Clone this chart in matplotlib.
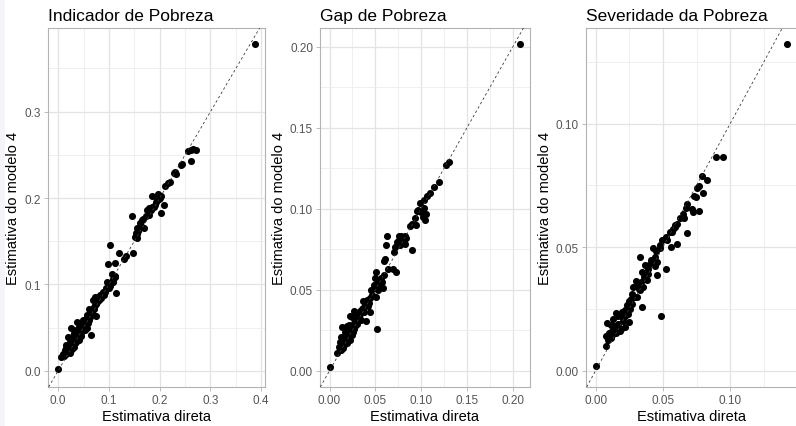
import numpy as np
import matplotlib
matplotlib.use("Agg")
import matplotlib.pyplot as plt
from matplotlib.ticker import MultipleLocator, FormatStrFormatter
from matplotlib.patches import Rectangle

plt.rcParams['font.family'] = ['Liberation Sans', 'DejaVu Sans']

# estimates: (direct estimate, model 4 estimate)
ind_direta = [0.388, 0.261, 0.266, 0.271, 0.256, 0.261, 0.244, 0.241, 0.231, 0.228,
              0.233, 0.220, 0.216, 0.211, 0.209, 0.203, 0.200, 0.195, 0.203, 0.185,
              0.190, 0.185, 0.178, 0.175, 0.173, 0.168, 0.165, 0.170, 0.162, 0.156,
              0.154, 0.152, 0.156, 0.145, 0.148, 0.134, 0.130, 0.119, 0.112, 0.102,
              0.099, 0.114, 0.111, 0.105, 0.107, 0.102, 0.097, 0.095, 0.089, 0.082,
              0.079, 0.072, 0.069, 0.075, 0.070, 0.066, 0.074, 0.061, 0.057, 0.054,
              0.060, 0.049, 0.057, 0.064, 0.046, 0.041, 0.037, 0.036, 0.026, 0.032,
              0.028, 0.019, 0.0225, 0.016, 0.0146, 0.026, 0.030, 0.0126, 0.009, 0.006,
              0.016, -0.0007,
              0.020, 0.022, 0.025, 0.027, 0.030, 0.028, 0.032, 0.034, 0.035, 0.038,
              0.040, 0.042, 0.044, 0.046, 0.048, 0.050, 0.052, 0.055, 0.058, 0.062,
              0.064, 0.067, 0.070, 0.073, 0.077, 0.080, 0.085, 0.090, 0.093, 0.018,
              0.024, 0.031, 0.036, 0.041, 0.045, 0.012, 0.015, 0.024, 0.039, 0.056,
              0.100, 0.104, 0.108, 0.112, 0.155, 0.158, 0.160, 0.163, 0.178, 0.182,
              0.188, 0.192, 0.198, 0.197]
ind_modelo = [0.378, 0.256, 0.257, 0.256, 0.2545, 0.243, 0.239, 0.238, 0.230, 0.229,
              0.228, 0.219, 0.217, 0.214, 0.192, 0.2025, 0.200, 0.198, 0.183, 0.2018,
              0.192, 0.1895, 0.188, 0.186, 0.179, 0.176, 0.174, 0.1655, 0.171, 0.1655,
              0.160, 0.155, 0.154, 0.179, 0.136, 0.133, 0.129, 0.136, 0.125, 0.146,
              0.124, 0.0898, 0.108, 0.112, 0.1024, 0.098, 0.1024, 0.0955, 0.0917, 0.0879,
              0.0852, 0.0852, 0.0814, 0.0776, 0.0737, 0.0699, 0.0634, 0.0718, 0.065, 0.060,
              0.0585, 0.0585, 0.049, 0.0413, 0.0546, 0.0508, 0.0566, 0.047, 0.049, 0.0432,
              0.0394, 0.0394, 0.0336, 0.0298, 0.0267, 0.0267, 0.0317, 0.0241, 0.019, 0.0164,
              0.0203, 0.0023,
              0.022, 0.026, 0.028, 0.025, 0.030, 0.034, 0.036, 0.032, 0.040, 0.038,
              0.042, 0.045, 0.040, 0.048, 0.050, 0.053, 0.047, 0.056, 0.055, 0.062,
              0.066, 0.068, 0.071, 0.076, 0.079, 0.082, 0.084, 0.088, 0.091, 0.024,
              0.031, 0.027, 0.033, 0.036, 0.044, 0.017, 0.019, 0.020, 0.047, 0.060,
              0.096, 0.101, 0.106, 0.110, 0.158, 0.162, 0.165, 0.168, 0.180, 0.186,
              0.190, 0.195, 0.199, 0.205]

gap_direta = [0.2084, 0.130, 0.1275, 0.120, 0.1137, 0.110, 0.1064, 0.1035, 0.099, 0.097,
              0.1027, 0.1056, 0.0955, 0.1046, 0.0936, 0.090, 0.0874, 0.090, 0.0827, 0.0809,
              0.079, 0.0754, 0.0736, 0.0772, 0.0718, 0.070, 0.0729, 0.0692, 0.0627, 0.0619,
              0.0634, 0.0608, 0.059, 0.0597, 0.0572, 0.0583, 0.0554, 0.051, 0.0499, 0.0525,
              0.0517, 0.051, 0.048, 0.0452, 0.0444, 0.0408, 0.0426, 0.039, 0.0437, 0.0364,
              0.040, 0.0353, 0.0328, 0.0299, 0.0262, 0.0226, 0.0291, 0.0262, 0.0244, 0.028,
              0.0226, 0.019, 0.0135, 0.0171, 0.0208, 0.0171, 0.0124, 0.0109, 0.0146, 0.0098,
              0.008, 0.000,
              0.015, 0.018, 0.020, 0.022, 0.024, 0.026, 0.028, 0.030, 0.032, 0.034,
              0.036, 0.038, 0.012, 0.016, 0.019, 0.021, 0.025, 0.027, 0.033, 0.042,
              0.046, 0.048, 0.053, 0.056, 0.078, 0.081, 0.084, 0.082, 0.076, 0.100,
              0.102, 0.094]
gap_modelo = [0.2016, 0.1288, 0.1268, 0.1167, 0.1132, 0.110, 0.1076, 0.1052, 0.1035, 0.0995,
              0.1005, 0.097, 0.0985, 0.093, 0.0944, 0.0904, 0.0894, 0.0748, 0.0833, 0.0813,
              0.0803, 0.0833, 0.0793, 0.0777, 0.0762, 0.0732, 0.0611, 0.0627, 0.0829, 0.0777,
              0.0631, 0.0692, 0.0675, 0.059, 0.055, 0.051, 0.053, 0.0611, 0.057, 0.054,
              0.0257, 0.0453, 0.051, 0.050, 0.0449, 0.0439, 0.0419, 0.0404, 0.0364, 0.0429,
              0.0307, 0.0378, 0.0348, 0.0358, 0.0368, 0.0338, 0.0317, 0.0297, 0.0267, 0.0277,
              0.0257, 0.0277, 0.0267, 0.0237, 0.0216, 0.0186, 0.0206, 0.0176, 0.0166, 0.0146,
              0.0109, 0.002,
              0.014, 0.020, 0.022, 0.019, 0.022, 0.024, 0.030, 0.029, 0.033, 0.031,
              0.039, 0.036, 0.013, 0.016, 0.017, 0.028, 0.033, 0.026, 0.037, 0.040,
              0.047, 0.053, 0.050, 0.057, 0.083, 0.080, 0.082, 0.078, 0.081, 0.098,
              0.095, 0.090]

sev_direta = [0.1425, 0.0943, 0.0893, 0.0825, 0.0793, 0.0768, 0.0755, 0.080, 0.073, 0.0743,
              0.068, 0.0675, 0.0718, 0.0725, 0.0768, 0.065, 0.066, 0.068, 0.0605, 0.0593,
              0.0575, 0.0555, 0.0525, 0.0605, 0.056, 0.0493, 0.0475, 0.045, 0.0425, 0.0443,
              0.0425, 0.0455, 0.0405, 0.0368, 0.0393, 0.0443, 0.0525, 0.0455, 0.033, 0.038,
              0.0343, 0.030, 0.0318, 0.0355, 0.033, 0.028, 0.0268, 0.031, 0.0343, 0.025,
              0.023, 0.0255, 0.0218, 0.025, 0.0485, 0.0193, 0.015, 0.0168, 0.0205, 0.013,
              0.0218, 0.0085, 0.0118, 0.0155, 0.0125, 0.010, 0.015, 0.018, 0.0075, 0.0093,
              0.0118, 0.0075, 0.000,
              0.014, 0.017, 0.019, 0.020, 0.022, 0.024, 0.027, 0.029, 0.032, 0.034,
              0.036, 0.039, 0.041, 0.011, 0.013, 0.016, 0.023, 0.026, 0.057, 0.059,
              0.053, 0.063, 0.048]
sev_modelo = [0.1321, 0.0865, 0.0863, 0.0773, 0.0786, 0.0749, 0.074, 0.072, 0.0707, 0.0704,
              0.0674, 0.066, 0.0654, 0.0643, 0.0647, 0.0634, 0.0617, 0.0559, 0.0594, 0.0581,
              0.0575, 0.0561, 0.0542, 0.0511, 0.0502, 0.0528, 0.0495, 0.0485, 0.0498, 0.0462,
              0.0449, 0.044, 0.0432, 0.0427, 0.041, 0.0423, 0.0413, 0.0387, 0.0462, 0.0366,
              0.040, 0.0361, 0.0343, 0.0337, 0.0326, 0.0337, 0.031, 0.0297, 0.0258, 0.0284,
              0.0264, 0.0251, 0.0244, 0.0198, 0.0221, 0.0238, 0.0234, 0.0221, 0.0215, 0.0211,
              0.0178, 0.0194, 0.0185, 0.0172, 0.0162, 0.0152, 0.0152, 0.0162, 0.0139, 0.0125,
              0.0132, 0.0099, 0.002,
              0.018, 0.019, 0.017, 0.020, 0.022, 0.023, 0.027, 0.030, 0.033, 0.036,
              0.038, 0.039, 0.045, 0.014, 0.015, 0.016, 0.025, 0.029, 0.056, 0.059,
              0.053, 0.062, 0.051]

titulos = ["Indicador de Pobreza", "Gap de Pobreza", "Severidade da Pobreza"]
series = [(ind_direta, ind_modelo), (gap_direta, gap_modelo), (sev_direta, sev_modelo)]
passos = [(0.1, 0.05, '%.1f'), (0.05, 0.025, '%.2f'), (0.05, 0.025, '%.2f')]

W, H = 796, 427
fig = plt.figure(figsize=(W / 100, H / 100), dpi=100)
fig.patches.append(Rectangle((0, 0), 5 / W, 1, transform=fig.transFigure,
                             facecolor='#f4f4fb', edgecolor='none', zorder=0))

# panel boxes in pixels: left, right
caixas = [(48, 265), (320, 530), (586, 797)]
top, bottom = 29, 388

for (l, r), titulo, (x, y), (maj, mnr, fmt) in zip(caixas, titulos, series, passos):
    ax = fig.add_axes([l / W, 1 - bottom / H, (r - l) / W, (bottom - top) / H])
    ax.scatter(x, y, s=26, color='black', linewidths=0, zorder=3)
    ax.margins(0.05)
    ax.axline((0, 0), slope=1, color='#3a3a3a', lw=0.6, ls=(0, (3, 3)), zorder=4)
    ax.xaxis.set_major_locator(MultipleLocator(maj))
    ax.yaxis.set_major_locator(MultipleLocator(maj))
    ax.xaxis.set_minor_locator(MultipleLocator(mnr))
    ax.yaxis.set_minor_locator(MultipleLocator(mnr))
    ax.xaxis.set_major_formatter(FormatStrFormatter(fmt))
    ax.yaxis.set_major_formatter(FormatStrFormatter(fmt))
    ax.grid(which='major', color='#e3e3e3', lw=0.9)
    ax.grid(which='minor', color='#ececec', lw=0.6)
    ax.set_axisbelow(True)
    for s in ax.spines.values():
        s.set_color('#b3b3b3')
        s.set_linewidth(0.8)
    ax.tick_params(which='major', length=3, width=0.6, color='#b3b3b3',
                   labelsize=8.5, labelcolor='#555555', pad=2)
    ax.tick_params(which='minor', length=0)
    ax.set_xlabel("Estimativa direta", fontsize=10.5, labelpad=2)
    ax.set_ylabel("Estimativa do modelo 4", fontsize=10.5, labelpad=3)
    ax.set_title(titulo, loc='left', fontsize=12.5, pad=6)

fig.savefig("out.png", dpi=100)
